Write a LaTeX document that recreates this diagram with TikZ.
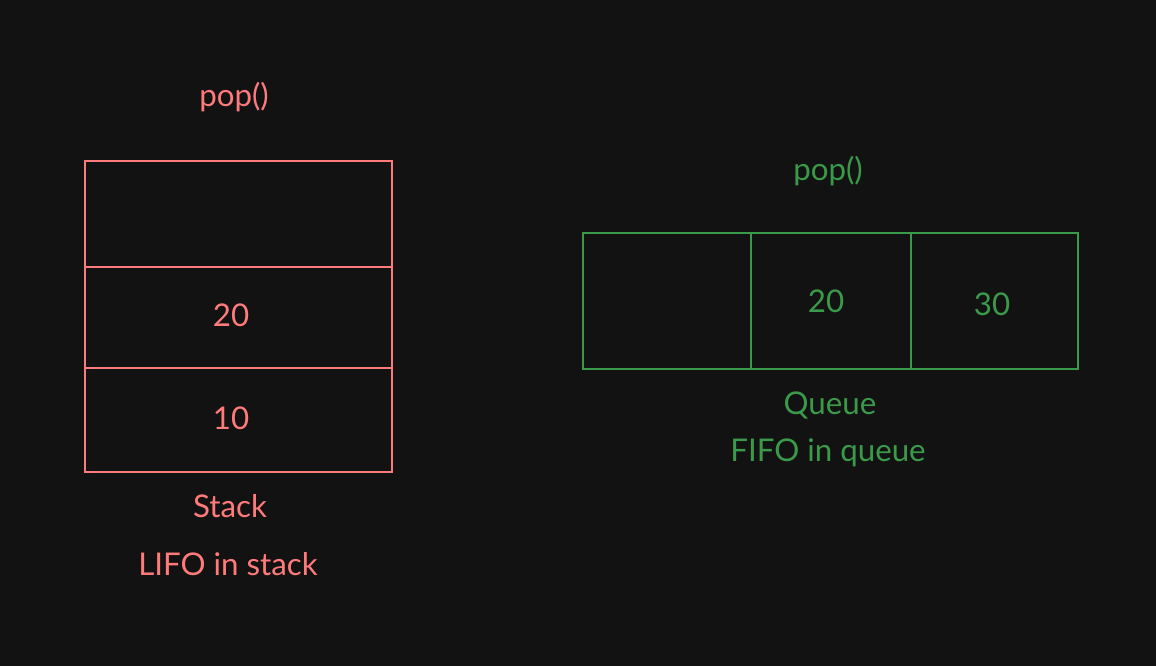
\documentclass[tikz,border=0pt]{standalone}
\usepackage{fontspec}
\setmainfont{Lato}
\usetikzlibrary{positioning}
\definecolor{bgdark}{RGB}{18,18,18}
\definecolor{stackred}{RGB}{255,122,122}
\definecolor{queuegreen}{RGB}{58,154,74}
\tikzset{
    stack cell/.style={draw=stackred, line width=1.2pt, inner sep=0pt, minimum width=307*0.02cm}, % cells of the stack
    queue cell/.style={draw=queuegreen, line width=1.2pt, inner sep=0pt, minimum height=136*0.02cm}, % cells of the queue
    stack text/.style={text=stackred, font=\fontsize{17.8}{21}\selectfont},
    queue text/.style={text=queuegreen, font=\fontsize{17.8}{21}\selectfont}
}
\begin{document}
\begin{tikzpicture}[x=0.02cm, y=-0.02cm]
            \fill[bgdark] (0,0) rectangle (1156,666);
            \useasboundingbox (0,0) rectangle (1156,666);

            % stack
            \node[stack cell, minimum height=106*0.02cm, anchor=north west] (s3) at (84,160) {};
            \node[stack cell, minimum height=101*0.02cm, anchor=north west] (s2) at (84,266) {};
            \node[stack cell, minimum height=104*0.02cm, anchor=north west] (s1) at (84,367) {};
            \node[stack text] (spop) at (234,97) {pop()};
            \node[stack text] (s20) at (231,315) {20};
            \node[stack text] (s10) at (231,418) {10};
            \node[stack text] (sname) at (230,506) {Stack};
            \node[stack text] (slifo) at (228,564) {LIFO in stack};

            % queue
            \node[queue cell, minimum width=168*0.02cm, anchor=north west] (q1) at (582,232) {};
            \node[queue cell, minimum width=160*0.02cm, anchor=north west] (q2) at (750,232) {};
            \node[queue cell, minimum width=167*0.02cm, anchor=north west] (q3) at (910,232) {};
            \node[queue text] (qpop) at (828,171) {pop()};
            \node[queue text] (q20) at (826,301) {20};
            \node[queue text] (q30) at (992,304) {30};
            \node[queue text] (qname) at (830,405) {Queue};
            \node[queue text] (qfifo) at (828,453) {FIFO in queue};
\end{tikzpicture}
\end{document}
